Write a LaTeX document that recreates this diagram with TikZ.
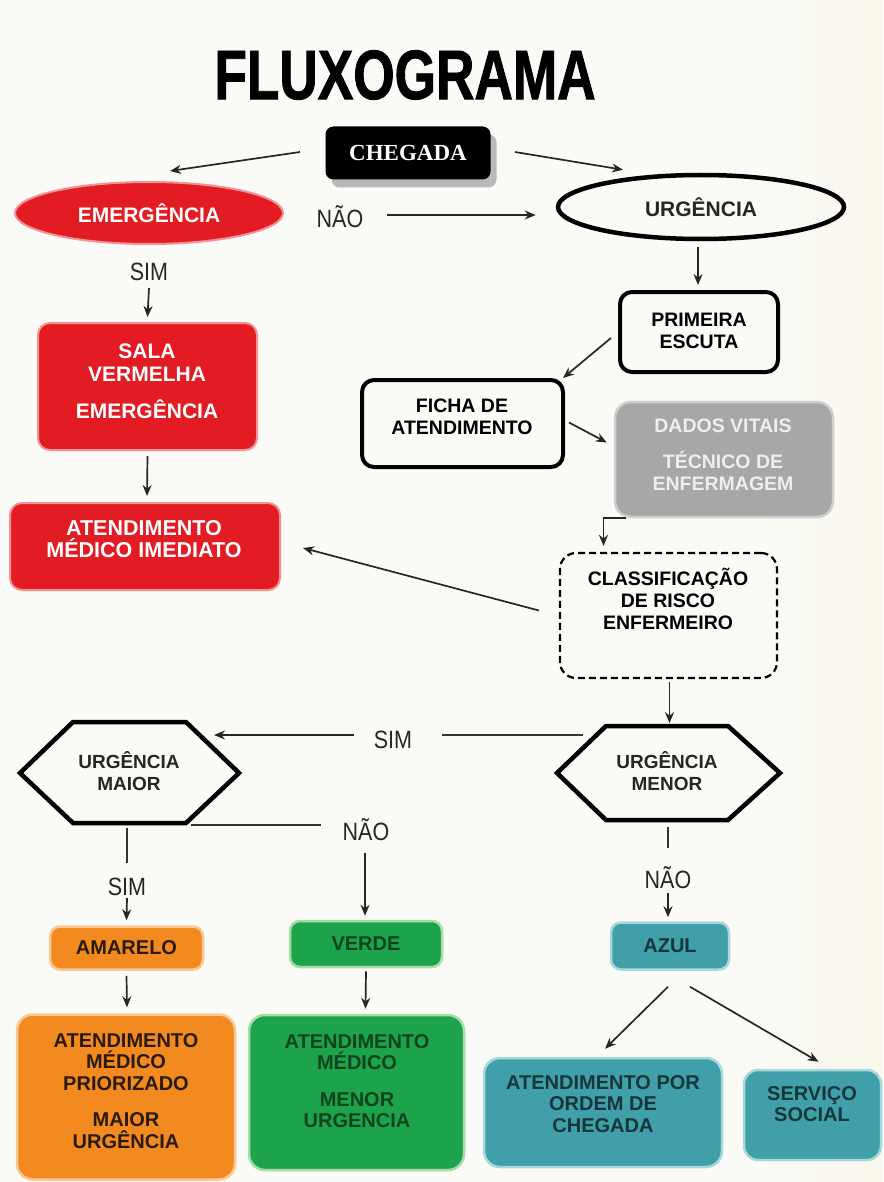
\documentclass[tikz,border=0pt]{standalone}
\usepackage{fontspec}
\setmainfont{Liberation Sans}
\newfontfamily\serifbf{Liberation Serif}
\newfontfamily\narrow[FakeStretch=0.86]{Liberation Sans}
\newfontfamily\titlef[FakeStretch=0.76,FakeBold=1.2]{Liberation Sans}
\usetikzlibrary{arrows.meta,shapes.geometric,shadows,calc}
\definecolor{bgL}{HTML}{FAFAF6}
\definecolor{bgR}{HTML}{FBEDC6}
\definecolor{redF}{HTML}{E31B23}
\definecolor{redE}{HTML}{F09296}
\definecolor{orF}{HTML}{F28A1F}
\definecolor{orE}{HTML}{F8C996}
\definecolor{orT}{HTML}{2A1A0A}
\definecolor{grF}{HTML}{1DA34B}
\definecolor{grE}{HTML}{A6DCA8}
\definecolor{grT}{HTML}{0E4320}
\definecolor{tlF}{HTML}{419FA9}
\definecolor{tlE}{HTML}{A9D8DC}
\definecolor{tlT}{HTML}{15363A}
\definecolor{gyF}{HTML}{A7A7A7}
\definecolor{gyE}{HTML}{CFCFCF}
\definecolor{gyT}{HTML}{EEEEEE}
\pgfdeclarehorizontalshading{bgsh}{100bp}{color(0bp)=(bgL); color(68bp)=(bgL); color(100bp)=(bgR)}
\begin{document}
\begin{tikzpicture}[x=1pt,y=-1pt,
  bt/.style={font=\fontsize{19.5}{22}\selectfont\bfseries, align=center, inner sep=0},
  rt/.style={font=\fontsize{21}{23}\selectfont\bfseries, align=center, inner sep=0, text=white},
  lt/.style={font=\fontsize{20}{21.5}\selectfont\bfseries, align=center, inner sep=0},
  arr/.style={-{Stealth[length=11,width=9]}, line width=1.7, draw=black!85},
  ln/.style={line width=1.7, draw=black!80},
  lbl/.style={font=\narrow\fontsize{25}{25}\selectfont, inner sep=0, text=black!85},
  bbox/.style={draw=black, line width=4, rounded corners=12, inner sep=0},
  redbox/.style={fill=redF, draw=redE, line width=2, rounded corners=12, inner sep=0},
  orbox/.style={fill=orF, draw=orE, line width=2.5, rounded corners=10, inner sep=0},
  grbox/.style={fill=grF, draw=grE, line width=2.5, rounded corners=10, inner sep=0},
  tlbox/.style={fill=tlF, draw=tlE, line width=2.5, rounded corners=10, inner sep=0},
  hexa/.style={draw=black, line width=4.5, line join=miter},
]
\useasboundingbox (0,0) rectangle (883,1182);
\shade[shading=bgsh] (0,0) rectangle (883,1182);

% title
\node[font=\titlef\bfseries\fontsize{70}{70}\selectfont, inner sep=0] (title) at (405,75) {FLUXOGRAMA};

% top
\node[fill=black, rounded corners=8, minimum width=165, minimum height=53, inner sep=0,
      text=white, font=\serifbf\bfseries\fontsize{23}{23}\selectfont,
      drop shadow={shadow xshift=6pt, shadow yshift=-8pt, fill=gray!55, opacity=1}] (chegada) at (408,153) {CHEGADA};
\node[ellipse, fill=redF, draw=redE, line width=2, minimum width=268, minimum height=62, inner sep=0,
      text=white, font=\fontsize{21}{22}\selectfont\bfseries] (emerg) at (149,213) {EMERGÊNCIA};
\node[ellipse, draw=black, line width=4.5, minimum width=286, minimum height=64, inner sep=0,
      font=\fontsize{21}{22}\selectfont\bfseries, text=black!85] (urg) at (701,207) {URGÊNCIA};
\node[lbl] (naoTop) at (340,217) {NÃO};
\node[lbl] (simTop) at (149,272) {SIM};

% right column
\node[bbox, minimum width=158, minimum height=80] (prim) at (699,332) {};
\node[bt] (primT) at (699,331) {PRIMEIRA\\ESCUTA};
\node[bbox, minimum width=201, minimum height=87] (ficha) at (462.5,423.5) {};
\node[bt] (fichaT) at (462,417) {FICHA DE\\ATENDIMENTO};
\node[fill=gyF, draw=gyE, line width=2.5, rounded corners=16, minimum width=218, minimum height=115,
      inner sep=0] (dados) at (724,459.5) {};
\node[bt, text=gyT] (dadosT) at (723,455) {DADOS VITAIS\\[14pt]TÉCNICO DE\\ENFERMAGEM};
\node[draw=black, dashed, dash pattern=on 7pt off 4pt, line width=2.2, rounded corners=16,
      minimum width=217, minimum height=125, inner sep=0] (class) at (668.5,615.5) {};
\node[bt] (classT) at (668,599) {CLASSIFICAÇÃO\\DE RISCO\\ENFERMEIRO};

% left column
\node[redbox, minimum width=219, minimum height=127] (sala) at (147.5,386.5) {};
\node[rt] (salaT) at (147,381) {SALA\\VERMELHA\\[14pt]EMERGÊNCIA};
\node[redbox, minimum width=270, minimum height=87] (imed) at (145,546.5) {};
\node[rt, font=\fontsize{21.5}{22}\selectfont\bfseries] (imedT) at (144,539) {ATENDIMENTO\\MÉDICO IMEDIATO};

% hexagons
\draw[hexa] (20,773) -- (73,722) -- (186,722) -- (239,773) -- (186,823) -- (73,823) -- cycle;
\node[bt, font=\fontsize{19}{22}\selectfont\bfseries, text=black!85] (maior) at (129,771) {URGÊNCIA\\MAIOR};
\draw[hexa] (557,773) -- (606,726) -- (728,726) -- (780,773) -- (728,820) -- (606,820) -- cycle;
\node[bt, font=\fontsize{19}{22}\selectfont\bfseries, text=black!85] (menor) at (667,771) {URGÊNCIA\\MENOR};
\node[lbl] (simMid) at (393,740) {SIM};
\node[lbl] (naoMid) at (366,830) {NÃO};
\node[lbl] (simL) at (127,887) {SIM};
\node[lbl] (naoR) at (668,878) {NÃO};

% colour boxes
\node[orbox, lt, text=orT, minimum width=153, minimum height=43] (amarelo) at (126.5,948) {AMARELO};
\node[grbox, lt, text=grT, minimum width=152, minimum height=46] (verde) at (366,944) {VERDE};
\node[tlbox, lt, text=tlT, minimum width=118, minimum height=47] (azul) at (670,946) {AZUL};
\node[orbox, rounded corners=16, minimum width=218, minimum height=165] (prior) at (126,1097) {};
\node[lt, text=orT] (priorT) at (126,1091) {ATENDIMENTO\\MÉDICO\\PRIORIZADO\\[15pt]MAIOR\\URGÊNCIA};
\node[grbox, rounded corners=16, minimum width=215, minimum height=155] (menorU) at (356.5,1092.5) {};
\node[lt, text=grT] (menorUT) at (357,1081) {ATENDIMENTO\\MÉDICO\\[15pt]MENOR\\URGENCIA};
\node[tlbox, rounded corners=16, minimum width=238, minimum height=109] (ordem) at (603,1112.5) {};
\node[lt, text=tlT] (ordemT) at (603,1104) {ATENDIMENTO POR\\ORDEM DE\\CHEGADA};
\node[tlbox, rounded corners=14, minimum width=137, minimum height=90] (servico) at (812.5,1115) {};
\node[lt, text=tlT] (servicoT) at (812,1104) {SERVIÇO\\SOCIAL};

% connectors
\draw[arr] ($(chegada)+(-108,-1)$) -- ($(emerg.north)+(21,-10)$);
\draw[arr] ($(chegada)+(107,-1)$) -- ($(urg.north)+(-78,-3)$);
\draw[arr] ($(naoTop)+(47,-2)$) -- ($(urg.west)+(-20,8)$);
\draw[arr] ($(urg.south)+(-3,6)$) -- ($(prim.north)+(-1,-5)$);
\draw[arr] ($(prim.west)+(-7,6)$) -- ($(ficha.north east)+(-2,0)$);
\draw[arr] ($(ficha.east)+(4,-1)$) -- ($(dados.west)+(-7,-17)$);
\draw[arr] ($(dados.south west)+(12,0)$) -| ($(class.north)+(-65,-6)$);
\draw[arr] ($(class.west)+(-20,-5)$) -- ($(imed.east)+(22,1.5)$);
\draw[arr] ($(class.south)+(1,3)$) -- ($(class.south)+(1,44)$);
\draw[arr] ($(simTop)+(0,16)$) -- ($(sala.north)+(0,-5)$);
\draw[arr] ($(sala.south)+(0,5)$) -- ($(imed.north)+(2,-6)$);
% SIM between hexagons
\draw[ln] ($(menor)+(-84,-36)$) -- ($(simMid)+(49,-5)$);
\draw[arr] ($(simMid)+(-39,-5)$) -- ($(maior)+(85,-36)$);
% NAO from maior
\draw[ln] ($(maior)+(62,54)$) -- ($(naoMid)+(-45,-5)$);
\draw[arr] ($(naoMid)+(-1,23)$) -- ($(verde.north)+(-1,-4)$);
% SIM below maior
\draw[ln] ($(maior)+(-2,57)$) -- ($(simL)+(0,-24)$);
\draw[arr] ($(simL)+(0,11)$) -- ($(amarelo.north)+(0,-5)$);
% NAO below menor
\draw[ln] ($(menor)+(1,56)$) -- ($(naoR)+(0,-30)$);
\draw[arr] ($(naoR)+(0,15)$) -- ($(azul.north)+(-2,-4)$);
% lower arrows
\draw[arr] ($(amarelo.south)+(0,5)$) -- ($(prior.north)+(1,-6)$);
\draw[arr] ($(verde.south)+(0,3)$) -- ($(menorU.north)+(9,-5)$);
\draw[arr] ($(azul.south)+(-2,16)$) -- ($(ordem.north)+(2,-8)$);
\draw[arr] ($(azul.south)+(20,16)$) -- ($(servico.north)+(6,-7)$);
\end{tikzpicture}
\end{document}
